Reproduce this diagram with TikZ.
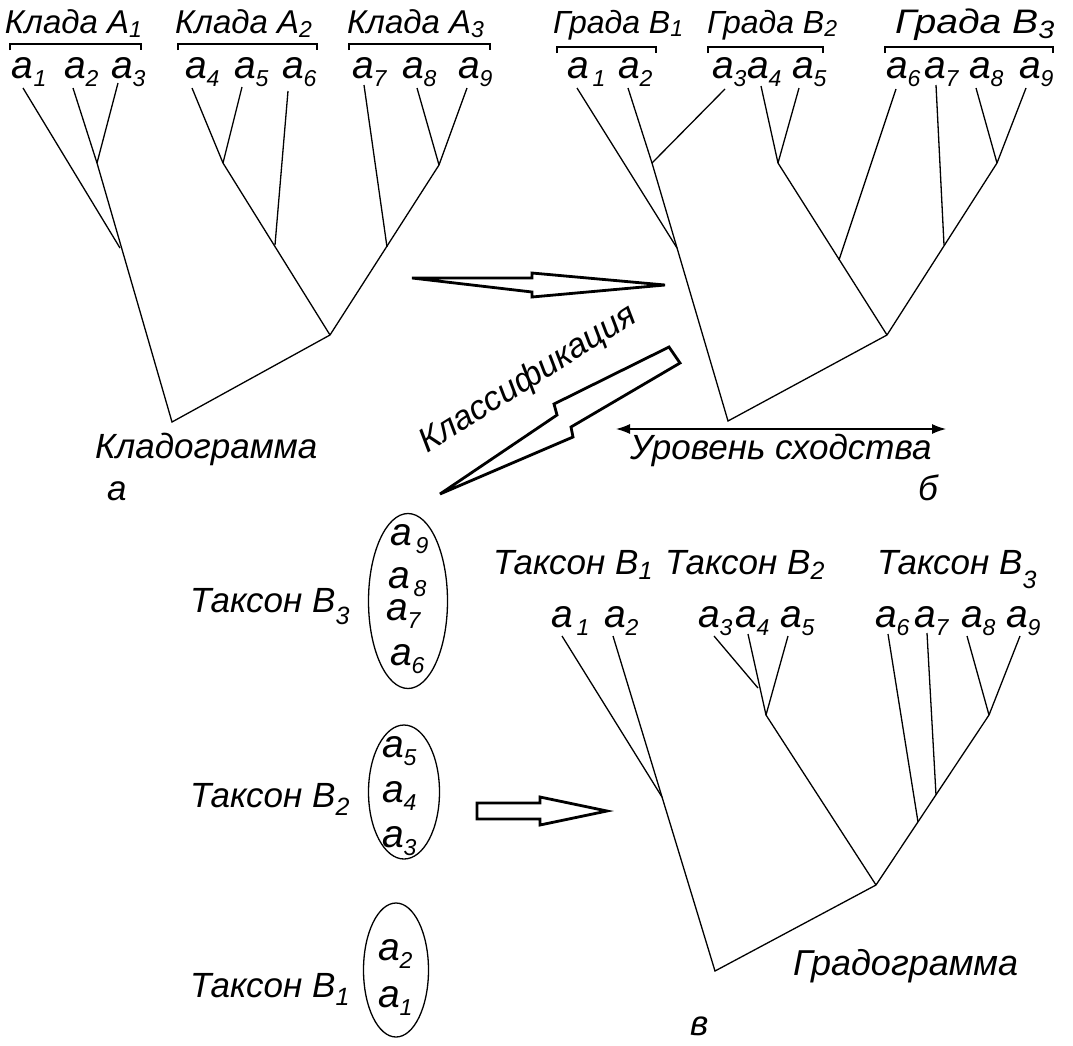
\documentclass[tikz,border=0pt]{standalone}
\usepackage{fontspec}
\setmainfont{Liberation Sans}
\usetikzlibrary{arrows.meta}
\newcommand\fs[1]{\fontsize{#1}{#1}\selectfont}
\newcommand\lb[1]{{\fs{39}a}\raisebox{-8pt}{\fs{23}#1}}
\newcommand\lbg[1]{{\fs{39}a}\kern4pt\raisebox{-8pt}{\fs{23}#1}}
\newcommand\sbx[3]{\raisebox{#1}{\fs{#2}#3}}
\begin{document}
\begin{tikzpicture}[x=1pt,y=-1pt,
  txt/.style={inner sep=0pt, outer sep=0pt, font=\itshape, anchor=base west},
  tree/.style={line width=1.3pt},
  brk/.style={line width=1.5pt},
  fat/.style={line width=2.8pt, line join=miter},
  oval/.style={line width=1.3pt}]
\useasboundingbox[fill=white] (0,0) rectangle (1073,1045);

% ---------------- panel a ----------------
\node[txt] (hA1) at (5,33)   {\fs{33}Клада A\sbx{-4pt}{23}{1}};
\node[txt] (hA2) at (175,33) {\fs{33}Клада A\sbx{-4pt}{23}{2}};
\node[txt] (hA3) at (347,33) {\fs{33}Клада A\sbx{-4pt}{23}{3}};
\draw[brk] (10,50) -- (10,44) -- (141,44) -- (141,50);
\draw[brk] (178,50) -- (178,44) -- (317,44) -- (317,50);
\draw[brk] (349,50) -- (349,44) -- (490,44) -- (490,50);

\node[txt] (la1) at (12,78)  {\lb{1}};
\node[txt] (la2) at (64,78)  {\lb{2}};
\node[txt] (la3) at (111,78) {\lb{3}};
\node[txt] (la4) at (185,78) {\lb{4}};
\node[txt] (la5) at (234,78) {\lb{5}};
\node[txt] (la6) at (282,78) {\lb{6}};
\node[txt] (la7) at (352,78) {\lb{7}};
\node[txt] (la8) at (402,78) {\lb{8}};
\node[txt] (la9) at (458,78) {\lb{9}};

\coordinate (A1) at (23,88);  \coordinate (A2) at (73,88);  \coordinate (A3) at (118,83);
\coordinate (A4) at (192,88); \coordinate (A5) at (242,87); \coordinate (A6) at (288,91);
\coordinate (A7) at (364,85); \coordinate (A8) at (417,88); \coordinate (A9) at (467,88);
\coordinate (Aj23) at (97,163);  \coordinate (Aj1) at (120,248); \coordinate (Aroot) at (172,422);
\coordinate (Aj45) at (223,163); \coordinate (Aj456) at (275,245); \coordinate (AjA) at (330,335);
\coordinate (Aj89) at (439,165); \coordinate (Aj789) at (387,247);
\draw[tree] (A1) -- (Aj1);
\draw[tree] (A2) -- (Aj23);
\draw[tree] (A3) -- (Aj23);
\draw[tree] (Aj23) -- (Aroot) -- (AjA);
\draw[tree] (A4) -- (Aj45);
\draw[tree] (A5) -- (Aj45);
\draw[tree] (Aj45) -- (AjA);
\draw[tree] (A6) -- (Aj456);
\draw[tree] (A7) -- (Aj789);
\draw[tree] (A8) -- (Aj89);
\draw[tree] (A9) -- (Aj89) -- (AjA);
\node[txt] (tA) at (95,458) {\fs{35}Кладограмма};
\node[txt] (pa) at (107,500) {\fs{35}а};

% ---------------- panel b ----------------
\node[txt] (hB1) at (553,33) {\fs{32}Града B\sbx{-3pt}{23}{1}};
\node[txt] (hB2) at (707,33) {\fs{32}Града B\sbx{-3pt}{23}{2}};
\node[txt] (hB3) at (895,33) {\scalebox{1.15}[1]{\fs{34}Града B\sbx{-5pt}{25}{3}}};
\draw[brk] (557,53) -- (557,47) -- (656,47) -- (656,53);
\draw[brk] (708,53) -- (708,47) -- (823,47) -- (823,53);
\draw[brk] (885,53) -- (885,47) -- (1053,47) -- (1053,53);

\node[txt] (lb1) at (567,78)  {\lbg{1}};
\node[txt] (lb2) at (618,78)  {\lb{2}};
\node[txt] (lb3) at (712,78)  {\lb{3}};
\node[txt] (lb4) at (747,78)  {\lb{4}};
\node[txt] (lb5) at (792,78)  {\lb{5}};
\node[txt] (lb6) at (886,78)  {\lb{6}};
\node[txt] (lb7) at (924,78)  {\lb{7}};
\node[txt] (lb8) at (969,78)  {\lb{8}};
\node[txt] (lb9) at (1019,78) {\lb{9}};

\coordinate (B1) at (577,88); \coordinate (B2) at (628,88); \coordinate (B3) at (725,89);
\coordinate (B4) at (761,86); \coordinate (B5) at (799,88); \coordinate (B6) at (896,89);
\coordinate (B7) at (936,85); \coordinate (B8) at (976,88); \coordinate (B9) at (1026,88);
\coordinate (Bj23) at (652,163); \coordinate (Bj1) at (677,248); \coordinate (Broot) at (728,421);
\coordinate (Bj45) at (778,163); \coordinate (Bj456) at (839,260); \coordinate (BjB) at (887,335);
\coordinate (Bj789) at (944,245); \coordinate (Bj89) at (997,163);
\draw[tree] (B1) -- (Bj1);
\draw[tree] (B2) -- (Bj23);
\draw[tree] (B3) -- (Bj23);
\draw[tree] (Bj23) -- (Broot) -- (BjB);
\draw[tree] (B4) -- (Bj45);
\draw[tree] (B5) -- (Bj45);
\draw[tree] (Bj45) -- (BjB);
\draw[tree] (B6) -- (Bj456);
\draw[tree] (B7) -- (Bj789);
\draw[tree] (B8) -- (Bj89);
\draw[tree] (B9) -- (Bj89) -- (BjB);

\coordinate (lvL) at (616,429); \coordinate (lvR) at (946,429);
\draw[line width=1.3pt, {Latex[length=14pt,width=10pt]}-{Latex[length=14pt,width=10pt]}] (lvL) -- (lvR);
\node[txt] (tB) at (630,459) {\fs{35}Уровень сходства};
\node[txt] (pb) at (918,500) {\fs{35}б};

% ---------------- arrows ----------------
\draw[fat] (412,278) -- (532,278) -- (532,273) -- (665,285) -- (532,297) -- (532,292) -- cycle;
\draw[fat] (669,347) -- (680,363) -- (571,427) -- (573,437) -- (440,494) -- (557,415) -- (554,404) -- cycle;
\node[txt, anchor=base, rotate=32] (cls) at (533,387) {\fs{34}Классификация};
\draw[fat] (477,803) -- (540,803) -- (540,797) -- (607,811) -- (540,825) -- (540,819) -- (477,819) -- cycle;

% ---------------- left column ----------------
\node[txt] (tx3) at (190,612) {\fs{35}Таксон B\sbx{-12pt}{25}{3}};
\draw[oval] (408,601) ellipse [x radius=39.5, y radius=87.5];
\node[txt] (e9) at (390,545) {\lbg{9}};
\node[txt] (e8) at (388,588) {\lbg{8}};
\node[txt] (e7) at (386,620) {\lb{7}};
\node[txt] (e6) at (390,665) {\lb{6}};

\node[txt] (tx2) at (190,807) {\fs{35}Таксон B\sbx{-8pt}{25}{2}};
\draw[oval] (404,792) ellipse [x radius=35.5, y radius=67];
\node[txt] (f5) at (382,757) {\lb{5}};
\node[txt] (f4) at (382,802) {\lb{4}};
\node[txt] (f3) at (382,847) {\lb{3}};

\node[txt] (tx1) at (190,997) {\fs{35}Таксон B\sbx{-8pt}{25}{1}};
\draw[oval] (396,970) ellipse [x radius=32.5, y radius=67];
\node[txt] (g2) at (378,960)  {\lb{2}};
\node[txt] (g1) at (378,1007) {\lb{1}};

% ---------------- panel c ----------------
\node[txt] (hC1) at (493,574) {\fs{35}Таксон B\sbx{-5pt}{25}{1}};
\node[txt] (hC2) at (665,574) {\fs{35}Таксон B\sbx{-5pt}{25}{2}};
\node[txt] (hC3) at (877,574) {\fs{35}Таксон B\sbx{-14pt}{25}{3}};

\node[txt] (lc1) at (551,627)  {\lbg{1}};
\node[txt] (lc2) at (604,627)  {\lb{2}};
\node[txt] (lc3) at (698,627)  {\lb{3}};
\node[txt] (lc4) at (735,627)  {\lb{4}};
\node[txt] (lc5) at (780,627)  {\lb{5}};
\node[txt] (lc6) at (875,627)  {\lb{6}};
\node[txt] (lc7) at (914,627)  {\lb{7}};
\node[txt] (lc8) at (961,627)  {\lb{8}};
\node[txt] (lc9) at (1006,627) {\lb{9}};

\coordinate (C1) at (562,636); \coordinate (C2) at (613,636); \coordinate (C3) at (714,636);
\coordinate (C4) at (748,634); \coordinate (C5) at (788,636); \coordinate (C6) at (888,634);
\coordinate (C7) at (927,633); \coordinate (C8) at (967,636); \coordinate (C9) at (1020,636);
\coordinate (Cj12) at (662,797); \coordinate (Croot) at (715,971);
\coordinate (Cj34) at (758,688); \coordinate (Cj345) at (766,715); \coordinate (CjC) at (876,885);
\coordinate (Cj6) at (918,822); \coordinate (Cj7) at (936,795); \coordinate (Cj89) at (989,715);
\draw[tree] (C1) -- (Cj12);
\draw[tree] (C2) -- (Croot) -- (CjC);
\draw[tree] (C3) -- (Cj34);
\draw[tree] (C4) -- (Cj345);
\draw[tree] (C5) -- (Cj345) -- (CjC);
\draw[tree] (C6) -- (Cj6);
\draw[tree] (C7) -- (Cj7);
\draw[tree] (C8) -- (Cj89);
\draw[tree] (C9) -- (Cj89) -- (CjC);
\node[txt] (tC) at (793,975) {\fs{36}Градограмма};
\node[txt] (pc) at (690,1035) {\fs{35}в};
\end{tikzpicture}
\end{document}
